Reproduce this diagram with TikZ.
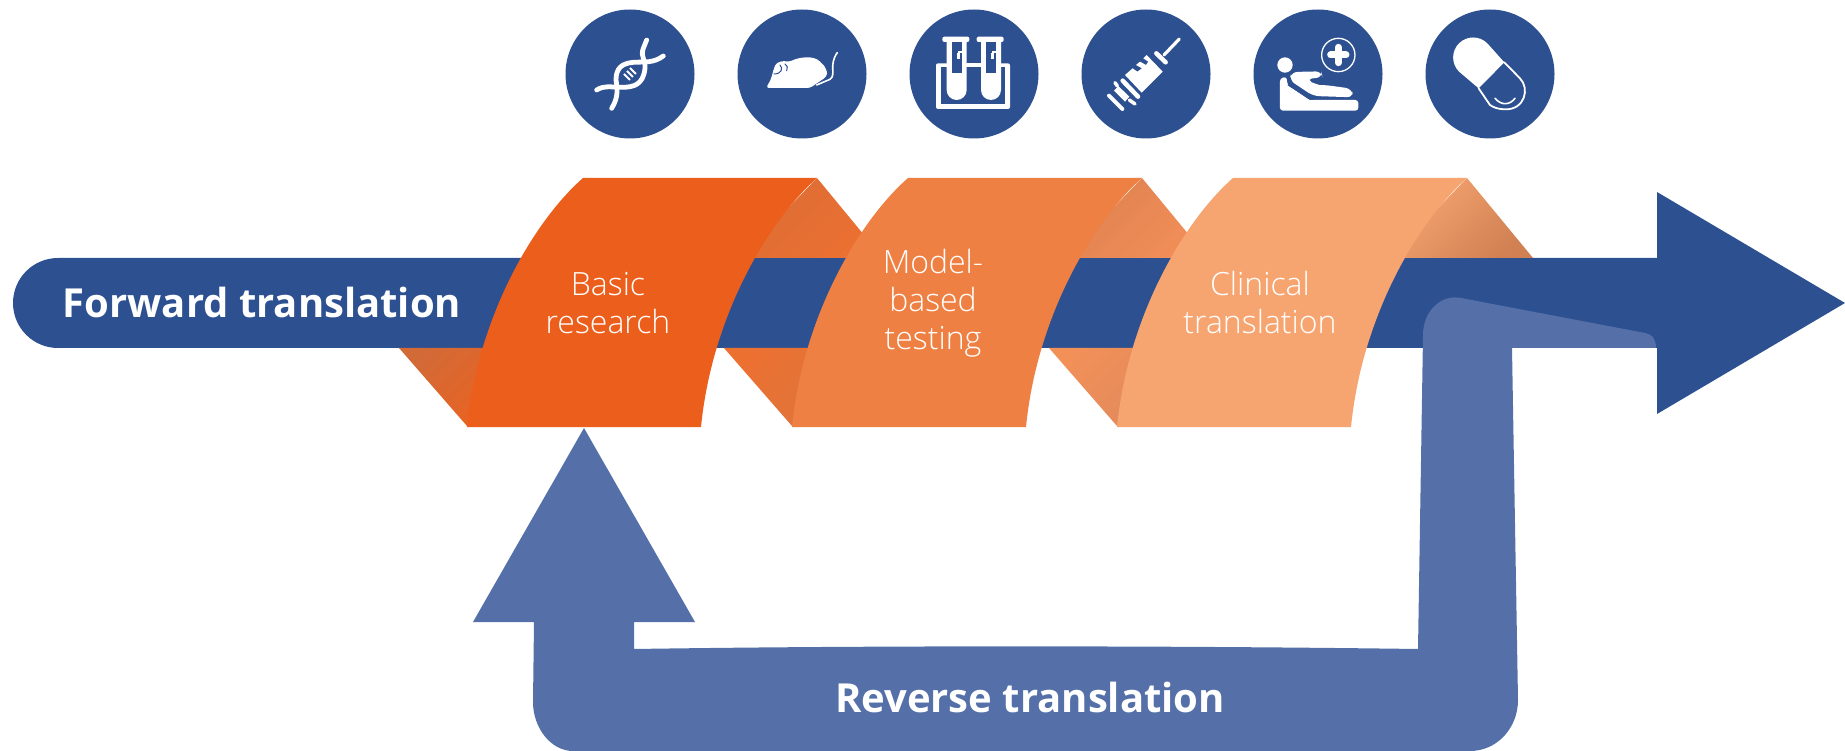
\documentclass[tikz,border=0pt]{standalone}
\usepackage{fontspec}
\setmainfont{Open Sans}
\newfontfamily\lightfont{Open Sans Light}
\definecolor{navy}{HTML}{2D5091}
\definecolor{rev}{HTML}{5570A8}
\definecolor{oa}{HTML}{EC5E1B}
\definecolor{ob}{HTML}{EF8043}
\definecolor{oc}{HTML}{F6A571}
\definecolor{fa}{HTML}{D26A38}
\definecolor{fb}{HTML}{EA6320}
\definecolor{fc}{HTML}{DC6D35}
\definecolor{fd}{HTML}{EC7032}
\definecolor{fe}{HTML}{EC7030}
\definecolor{ff}{HTML}{E0743C}
\definecolor{fg}{HTML}{DE8250}
\definecolor{fh}{HTML}{F28E58}
\definecolor{fi}{HTML}{F29058}
\definecolor{fj}{HTML}{E28A5C}
\definecolor{fk}{HTML}{F6A571}
\definecolor{fl}{HTML}{D08052}
\tikzset{
  circ/.style={circle,fill=navy,minimum size=129pt,inner sep=0pt},
  bandtext/.style={text=white,align=center,font=\lightfont\fontsize{32}{38}\selectfont},
  bigtext/.style={text=white,font=\bfseries\fontsize{40}{46}\selectfont},
  flap/.style={shading angle=45},
  ic/.style={draw=white,line cap=round,line join=round},
}
\newcommand{\band}[2]{\fill[#2] (583+#1,178) -- (817+#1,178) .. controls (769+#1,220) and (712+#1,315) .. (701+#1,427) -- (467+#1,427) .. controls (478+#1,315) and (535+#1,220) .. (583+#1,178) -- cycle;}
\newcommand{\tube}[1]{
  \fill[white] (110+#1,90) -- (110+#1,240) arc[start angle=180,end angle=0,radius=30] -- (170+#1,90) -- cycle;
  \fill[navy] (125+#1,95) rectangle (155+#1,190);
  \fill[white] (143+#1,122) rectangle (155+#1,130);
  \fill[white] (140+#1,128) rectangle (150+#1,148);
  \fill[white,rounded corners=2pt] (97+#1,80) rectangle (178+#1,96);
}
\begin{document}
\begin{tikzpicture}[x=1pt,y=-1pt]
\useasboundingbox (0,0) rectangle (1845,751);
% forward arrow
\fill[navy] (58,258) -- (1657,258) -- (1657,192) -- (1845,303) -- (1657,414) -- (1657,348) -- (58,348) arc[start angle=90,end angle=270,radius=45] -- cycle;
% flaps
\shade[top color=fa,bottom color=fb,flap] (399,348) -- (510,348) -- (510,426) -- (467,426) -- cycle;
\shade[top color=fc,bottom color=fd,flap] (817,178) -- (883,258) -- (740,258) -- cycle;
\shade[top color=fe,bottom color=ff,flap] (724,348) -- (835,348) -- (835,426) -- (792,426) -- cycle;
\shade[top color=fg,bottom color=fh,flap] (1142,178) -- (1208,258) -- (1065,258) -- cycle;
\shade[top color=fi,bottom color=fj,flap] (1049,348) -- (1160,348) -- (1160,426) -- (1117,426) -- cycle;
\shade[top color=fk,bottom color=fl,flap] (1467,178) -- (1533,258) -- (1390,258) -- cycle;
% bands
\band{0}{oa}
\band{325}{ob}
\band{650}{oc}
% reverse arrow
\fill[rev] (584,428) -- (695,622) -- (634,622) -- (634,649) .. controls (900,645) and (1200,646) .. (1418,649) -- (1423,335) .. controls (1423,312) and (1440,294) .. (1461,298) -- (1645,333) .. controls (1655,335) and (1656,343) .. (1656,348) -- (1512,348) -- (1518,700) .. controls (1518,728) and (1497,751) .. (1470,751) -- (573,751) .. controls (551,751) and (533,728) .. (533,702) -- (534,622) -- (473,622) -- cycle;
% labels
\node[bigtext] (fwd) at (262,303) {Forward translation};
\node[bigtext] (rvs) at (1030,697) {Reverse translation};
\node[bandtext] (basic) at (608,303) {Basic\\research};
\node[bandtext] (model) at (933,303) {Model-\\based\\testing};
\node[bandtext] (clin) at (1260,303) {Clinical\\translation};
% circles
\node[circ] (c1) at (630,74) {};
\node[circ] (c2) at (802,74) {};
\node[circ] (c3) at (974,74) {};
\node[circ] (c4) at (1146,74) {};
\node[circ] (c5) at (1318,74) {};
\node[circ] (c6) at (1490,74) {};
% DNA + mouse (zoom coordinates)
\begin{scope}[xshift=550pt,x=.3333pt,y=-.3333pt]
\draw[ic,line width=4.8pt] (140,270) .. controls (165,255) and (180,262) .. (215,262) .. controls (250,262) and (280,255) .. (285,205) .. controls (288,180) and (270,170) .. (280,145) -- (290,120);
\draw[ic,line width=4.8pt] (340,168) .. controls (310,190) and (285,185) .. (250,187) .. controls (215,190) and (198,205) .. (198,240) .. controls (205,280) and (200,300) .. (185,325);
\draw[ic,line width=1.8pt,line cap=butt] (222,222) -- (240,240) (231,213) -- (249,231) (240,204) -- (258,222);
\fill[white,rounded corners=3pt] (648,264) -- (662,240) -- (672,205) .. controls (680,185) and (700,182) .. (718,186) .. controls (745,172) and (790,165) .. (815,190) .. controls (825,200) and (832,215) .. (830,230) -- (780,264) -- cycle;
\draw[ic,line width=1.6pt] (800,255) -- (840,238) .. controls (860,225) and (835,195) .. (862,158);
\draw[navy,line width=1pt,line cap=round] (672,222) .. controls (695,222) and (700,205) .. (690,195) (710,212) .. controls (715,205) and (712,195) .. (705,192);
\end{scope}
% test tubes
\begin{scope}[xshift=910pt,yshift=-10pt,x=.3333pt,y=-.3333pt]
\fill[white,rounded corners=2pt] (78,160) rectangle (300,297);
\fill[navy] (93,172) rectangle (285,283);
\tube{0}
\tube{103}
\fill[white] (170,160) rectangle (213,172);
\end{scope}
% syringe, patient, pill
\begin{scope}[xshift=1060pt,x=.3333pt,y=-.3333pt]
\draw[ic,line width=3.2pt] (312,165) -- (358,117);
\draw[ic,line width=4.5pt] (289,160) -- (317,187);
\fill[white] (195,225) -- (218,205) -- (232,215) -- (246,205) -- (228,195) -- (240,185) -- (258,195) -- (265,185) -- (250,175) -- (260,165) -- (308,215) -- (245,278) -- cycle;
\draw[ic,line width=4.5pt] (188,242) -- (234,290);
\fill[white] (175,258) -- (208,290) -- (195,305) -- (162,272) -- cycle;
\draw[ic,line width=4pt] (147,287) -- (187,327);
\draw[ic,line width=3.5pt] (165,248) -- (172,258) (208,300) -- (225,312);
\fill[white] (675,195) circle[radius=23];
\fill[white,rounded corners=3pt] (660,235) -- (680,230) -- (682,255) -- (750,300) -- (895,300) -- (895,332) -- (660,332) -- cycle;
\fill[navy] (682,255) -- (750,300) -- (770,296) -- (700,250) -- cycle;
\fill[white,rounded corners=6pt] (688,240) -- (695,216) -- (785,214) -- (787,232) -- (740,237) .. controls (760,250) and (780,255) .. (795,255) -- (875,266) -- (880,292) -- (760,288) -- cycle;
\draw[white,line width=1.3pt] (835,165) circle[radius=50];
\draw[ic,line width=7pt,line cap=round] (835,142) -- (835,188) (812,165) -- (858,165);
\fill[white] (1333,187) -- (1282,130) arc[start angle=315,end angle=135,radius=60] -- (1256,265) -- cycle;
\draw[ic,line width=1.8pt] (1333,187) -- (1380,235) .. controls (1410,265) and (1395,330) .. (1335,328) .. controls (1315,328) and (1300,322) .. (1290,315) -- (1256,265);
\draw[ic,line width=1.6pt] (1305,295) .. controls (1325,318) and (1350,315) .. (1365,295);
\end{scope}
\end{tikzpicture}
\end{document}
